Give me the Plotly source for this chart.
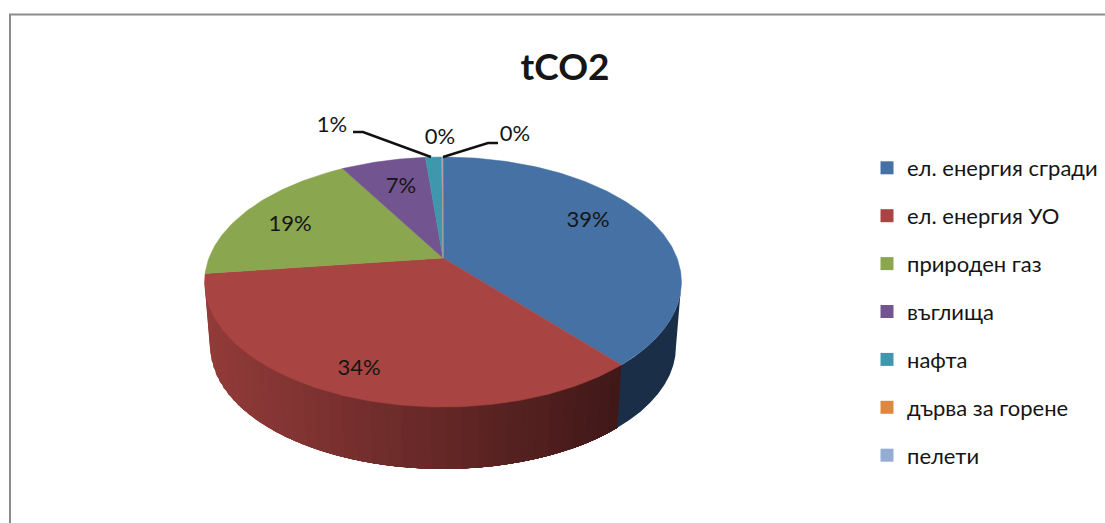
import numpy as np
import plotly.graph_objects as go

categories = ["ел. енергия сгради", "ел. енергия УО", "природен газ", "въглища", "нафта", "дърва за горене", "пелети"]
values = [38.6, 34.2, 18.6, 6.9, 1.3, 0.1, 0.02]
title = "tCO2"

colors = ["#4571a4", "#a84442", "#8aa64e", "#725590", "#3f97ae", "#dd8740", "#95acd3"]
FONT = "Lato, Carlito, Calibri, sans-serif"
W, H = 1105, 523
CX, CY = 443.0, 258.0
PA, PC, PD = 120.4, 0.192, 234.0
WALL_SCALE, WALL_DY = 0.977, 65.4

label_xy = [(588, 221), (359, 369), (290, 225), (401, 187), (332, 126), (440, 138), (515, 135)]
leaders = {4: [(353, 132), (363, 132), (431, 157)], 5: [(443, 157), (488, 143), (498, 143)]}


def rim(a):
    """a: clockwise angle from the top, in radians. Perspective-projected unit circle."""
    x, y = np.sin(a), np.cos(a)
    d = 1 + PC * y
    return PD * x / d, PA * y / d


def mix(c1, c2, t):
    return "rgb(%d,%d,%d)" % tuple(round(p + (q - p) * t) for p, q in zip(c1, c2))


fractions = np.array(values) / sum(values)
edges = np.concatenate([[0], np.cumsum(fractions)]) * 2 * np.pi
fig = go.Figure()


def poly(xs, ys, color, lw=0.0):
    fig.add_trace(go.Scatter(x=xs, y=ys, mode="lines", fill="toself", fillcolor=color,
                             line=dict(color=color, width=lw), hoverinfo="skip", showlegend=False))


def wall(a0, a1, color):
    aa = np.linspace(a0, a1, 10)
    u, v = rim(aa)
    xt, yt = CX + u, CY - v
    xb, yb = CX + u * WALL_SCALE, CY - v * WALL_SCALE + WALL_DY
    poly(np.r_[xt, xb[::-1], xt[0]], np.r_[yt, yb[::-1], yt[0]], color)


# the visible wall runs between the two horizontal extremes of the projected rim
RIGHT_EXT = np.pi / 2 + np.arcsin(PC)
LEFT_EXT = 3 * np.pi / 2 - np.arcsin(PC)

# side wall: red strips painted from the far (left) end, each overlapping the previous seam
a0, a1 = max(edges[1], RIGHT_EXT), min(edges[2], LEFT_EXT)
grid = np.linspace(a1, a0, int((a1 - a0) / np.radians(3)) + 1)
for s in grid[:-1]:
    xm = CX + float(rim(np.array([s]))[0][0])
    col = mix((146, 59, 57), (62, 23, 23), min(1, max(0, (xm - 205) / 420)))
    wall(s, a0, col)
# blue wall
wall(max(edges[0], RIGHT_EXT), edges[1], "#1a2e48")

# top surface
for i, c in enumerate(colors):
    aa = np.linspace(edges[i], edges[i + 1], max(3, int(fractions[i] * 360)))
    u, v = rim(aa)
    poly(np.r_[CX, CX + u, CX], np.r_[CY, CY - v, CY], c, 0.5)

# leader lines
for pts in leaders.values():
    fig.add_trace(go.Scatter(x=[p[0] for p in pts], y=[p[1] for p in pts], mode="lines",
                             line=dict(color="#111111", width=2.4), hoverinfo="skip", showlegend=False))

# labels
fig.add_trace(go.Scatter(x=[p[0] for p in label_xy], y=[p[1] for p in label_xy], mode="text",
                         text=["%d%%" % round(f * 100) for f in fractions],
                         textposition="middle center", textfont=dict(family=FONT, size=22, color="#151515"),
                         hoverinfo="skip", showlegend=False))

# legend entries
for name, c in zip(categories, colors):
    fig.add_trace(go.Scatter(x=[None], y=[None], mode="markers", name=name, legendgroup=name,
                             marker=dict(symbol="square", size=13, color=c)))

frame = dict(type="line", xref="x", yref="y", line=dict(color="#8c8c8c", width=2))
fig.update_layout(
    width=W, height=H, autosize=False,
    margin=dict(l=0, r=0, t=0, b=0),
    paper_bgcolor="white", plot_bgcolor="white",
    font=dict(family=FONT, color="#151515"),
    title=dict(text="<b>%s</b>" % title, x=565 / W, xanchor="center", y=1 - 67 / H, yanchor="middle",
               font=dict(family=FONT, size=37, color="#151515")),
    xaxis=dict(range=[0, W], visible=False, fixedrange=True),
    yaxis=dict(range=[H, 0], visible=False, fixedrange=True),
    shapes=[dict(frame, x0=10, x1=10, y0=14, y1=H), dict(frame, x0=9, x1=W, y0=14.5, y1=14.5)],
    legend=dict(x=867 / W, xanchor="left", y=1 - 147 / H, yanchor="top", tracegroupgap=16.3,
                font=dict(family=FONT, size=22, color="#151515"), bgcolor="rgba(0,0,0,0)",
                itemclick=False, itemdoubleclick=False),
    showlegend=True,
)
fig.write_html("out.html", config={"displayModeBar": False},
               post_script="document.body.style.margin='0';document.body.style.overflow='hidden';")
